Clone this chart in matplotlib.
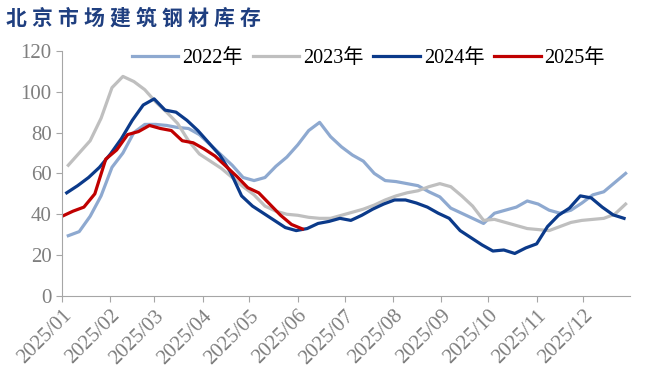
import numpy as np
import pandas as pd
import matplotlib
matplotlib.use("Agg")
import matplotlib.pyplot as plt
import matplotlib.dates as mdates

# -----------------------------
# data (weekly inventory)
# -----------------------------
title = "北京市场建筑钢材库存"
labels = ["2022年", "2023年", "2024年", "2025年"]
starts = ["2025-01-05", "2025-01-05", "2025-01-04", "2025-01-01"]

v2022 = [29.5, 31.5, 39, 49, 63, 70, 80, 84, 84, 83.5, 82.5, 82, 79, 74, 69, 64,
         58, 56.5, 58, 63.5, 68, 74, 81, 85, 78, 73, 69, 66, 60, 56.5, 56, 55,
         54, 51, 48.5, 43, 40.5, 38, 35.5, 40.5, 42, 43.5, 46.5, 45, 42, 40.5,
         42, 45.5, 49.5, 51, 55.5, 60]
v2023 = [64, 70, 76, 87, 102, 107.5, 105, 101, 95, 90, 84.5, 76, 69.5, 66, 62.5,
         58, 53.5, 49.5, 44, 41.5, 40, 39.5, 38.5, 38, 38, 39.5, 41, 42.5, 44.5,
         47, 49, 50.5, 51.5, 53.5, 55, 53.5, 49, 44, 37, 37.5, 36, 34.5, 33, 32.5,
         32, 34, 36, 37, 37.5, 38, 40, 45]
v2024 = [50.5, 54, 58, 63, 69.5, 77, 86, 93.5, 96.5, 91, 90, 86, 81, 75, 69, 60.5,
         49, 44, 40.5, 37, 33.5, 32, 33, 35.5, 36.5, 38, 37, 39.5, 42.5, 45, 47,
         47, 45.5, 43.5, 40.5, 38, 32, 28.5, 25, 22, 22.5, 20.8, 23.5, 25.5, 34,
         39.5, 43, 49, 48, 43.5, 39.7, 38]
v2025 = [39, 41.5, 43.5, 50, 67, 71.5, 79, 80.5, 83.5, 82, 81, 76, 75, 72, 68.5,
         63.5, 58.5, 53, 50.5, 45, 39.5, 35, 32.8]

series = [v2022, v2023, v2024, v2025]
colors = ["#8EA9D0", "#BFBFBF", "#0B3A8A", "#C00000"]

# -----------------------------
# plot
# -----------------------------
plt.rcParams["font.family"] = ["Liberation Serif", "Noto Sans CJK SC"]

fig = plt.figure(figsize=(6.6, 3.77), dpi=100)
ax = fig.add_axes([0.094, 0.215, 0.861, 0.65])

for vals, start, lab, c in zip(series, starts, labels, colors):
    dates = pd.date_range(start, periods=len(vals), freq="7D")
    ax.plot(dates, vals, color=c, linewidth=2.3, label=lab)

ax.set_ylim(0, 120)
ax.set_yticks(np.arange(0, 121, 20))
ax.set_xlim(pd.Timestamp("2025-01-01"), pd.Timestamp("2025-12-31"))
ax.xaxis.set_major_locator(mdates.MonthLocator())
ax.xaxis.set_major_formatter(mdates.DateFormatter("%Y/%m"))

grey = "#A6A6A6"
for s in ["top", "right"]:
    ax.spines[s].set_visible(False)
for s in ["left", "bottom"]:
    ax.spines[s].set_color(grey)
ax.tick_params(colors=grey, labelcolor="#7F7F7F", labelsize=15, length=4)
plt.setp(ax.get_xticklabels(), rotation=45, ha="right", rotation_mode="anchor")

fig.legend(loc="center", bbox_to_anchor=(0.558, 0.846), ncol=4, frameon=False,
           fontsize=14.5, handlelength=2.3, handletextpad=0.2, columnspacing=0.5)

# title, spaced out character by character
for i, ch in enumerate(title):
    fig.text(0.008 + i * 0.0395, 0.952, ch, color="#1F3F80", fontsize=15,
             fontweight="bold", va="center", family=["Noto Sans CJK SC"])

fig.savefig("out.png", dpi=100)
